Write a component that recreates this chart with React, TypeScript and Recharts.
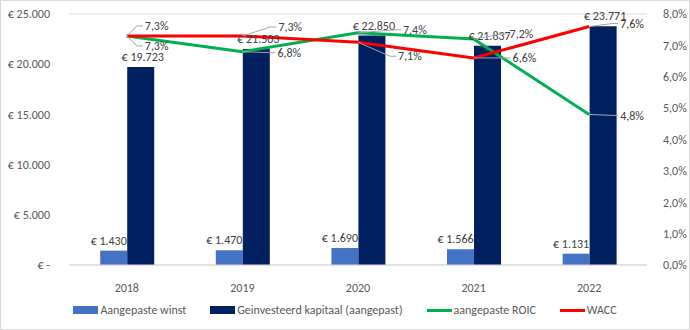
import React from 'react';
import { ComposedChart, Bar, Line, XAxis, YAxis, CartesianGrid, Legend, LabelList } from 'recharts';

const years = ['2018', '2019', '2020', '2021', '2022'];
const winst = [1430, 1470, 1690, 1566, 1131];
const kapitaal = [19723, 21503, 22850, 21837, 23771];
const roic = [7.3, 6.8, 7.4, 7.2, 4.8];
const wacc = [7.3, 7.3, 7.1, 6.6, 7.6];
const leftTicks = [0, 5000, 10000, 15000, 20000, 25000];
const rightTicks = [0, 1, 2, 3, 4, 5, 6, 7, 8];

// label offsets (dx, dy) from the point for the line labels
const roicLabelOffsets = [[18, 10], [35, 1], [45, -3], [36, -5], [31, 1]];
const waccLabelOffsets = [[18, -10], [36, -9], [40, 14], [39, 0], [31, -3]];

const data = years.map((y, i) => ({
  year: y,
  winst: winst[i],
  kapitaal: kapitaal[i],
  roic: roic[i],
  wacc: wacc[i],
}));

const FONT = 'Carlito, Lato, "Open Sans", sans-serif';
const FS = 12;
const TEXT = '#595959';
const LABEL = '#404040';

const euro = (v: number) => {
  if (v === 0) return '€ -';
  return '€ ' + v.toLocaleString('de-DE');
};
const pct = (v: number) => v.toFixed(1).replace('.', ',') + '%';

const makeLineLabel = (offsets: number[][]) => (props: any) => {
  const { x, y, index, value } = props;
  const [dx, dy] = offsets[index];
  const lx = x + dx;
  const ly = y + dy;
  return (
    <g>
      <polyline
        points={`${x},${y} ${lx - 8},${ly} ${lx - 2},${ly}`}
        fill="none"
        stroke="#a6a6a6"
        strokeWidth={1}
      />
      <text x={lx} y={ly} dy="0.35em" fontSize={FS} fill={LABEL} fontFamily={FONT} textAnchor="start">
        {pct(value)}
      </text>
    </g>
  );
};

const barLabel = (dx: number) => (props: any) => {
  const { x, y, width, value } = props;
  return (
    <text x={x + width / 2 + dx} y={y - 6} fontSize={FS} fill={LABEL} fontFamily={FONT} textAnchor="middle">
      {euro(value)}
    </text>
  );
};

const legendItems = [
  { name: 'Aangepaste winst', color: '#4472C4', type: 'bar' },
  { name: 'Geinvesteerd kapitaal (aangepast)', color: '#002060', type: 'bar' },
  { name: 'aangepaste ROIC', color: '#00B050', type: 'line' },
  { name: 'WACC', color: '#FF0000', type: 'line' },
];

const renderLegend = () => (
  <div style={{ display: 'flex', justifyContent: 'center', fontFamily: FONT, fontSize: FS, color: TEXT }}>
    {legendItems.map((it) => (
      <div key={it.name} style={{ display: 'flex', alignItems: 'center', margin: '0 12px' }}>
        <span
          style={{
            display: 'inline-block',
            width: 25,
            height: it.type === 'bar' ? 8 : 3,
            background: it.color,
            marginRight: 2,
          }}
        />
        <span>{it.name}</span>
      </div>
    ))}
  </div>
);

export default function App() {
  return (
    <div
      style={{
        position: 'fixed',
        top: 0,
        left: 0,
        width: 688,
        height: 328,
        border: '1px solid #d9d9d9',
        background: '#fff',
      }}
    >
      <ComposedChart
        width={688}
        height={328}
        data={data}
        margin={{ top: 13, right: 0, bottom: 20, left: 0 }}
        barGap={0}
        barCategoryGap="27%"
      >
        <CartesianGrid vertical={false} stroke="#d9d9d9" />
        <XAxis
          dataKey="year"
          tickLine={false}
          axisLine={{ stroke: '#d9d9d9' }}
          tick={{ fill: TEXT, fontSize: FS, fontFamily: FONT }}
          tickMargin={12}
        />
        <YAxis
          yAxisId="left"
          orientation="left"
          width={68}
          domain={[0, 25000]}
          ticks={leftTicks}
          tickFormatter={euro}
          axisLine={false}
          tickLine={false}
          tickMargin={13}
          tick={{ fill: TEXT, fontSize: FS, fontFamily: FONT }}
        />
        <YAxis
          yAxisId="right"
          orientation="right"
          width={42}
          domain={[0, 8]}
          ticks={rightTicks}
          tickFormatter={(v: number) => pct(v)}
          axisLine={false}
          tickLine={false}
          tickMargin={10}
          tick={{ fill: TEXT, fontSize: FS, fontFamily: FONT }}
        />
        <Bar yAxisId="left" dataKey="winst" fill="#4472C4" isAnimationActive={false}>
          <LabelList dataKey="winst" content={barLabel(-5)} />
        </Bar>
        <Bar yAxisId="left" dataKey="kapitaal" fill="#002060" isAnimationActive={false}>
          <LabelList dataKey="kapitaal" content={barLabel(2)} />
        </Bar>
        <Line
          yAxisId="right"
          dataKey="roic"
          stroke="#00B050"
          strokeWidth={3}
          dot={false}
          isAnimationActive={false}
        >
          <LabelList dataKey="roic" content={makeLineLabel(roicLabelOffsets)} />
        </Line>
        <Line
          yAxisId="right"
          dataKey="wacc"
          stroke="#FF0000"
          strokeWidth={3}
          dot={false}
          isAnimationActive={false}
        >
          <LabelList dataKey="wacc" content={makeLineLabel(waccLabelOffsets)} />
        </Line>
        <Legend content={renderLegend} wrapperStyle={{ position: 'absolute', top: 302, left: 0, width: 688 }} />
      </ComposedChart>
    </div>
  );
}
